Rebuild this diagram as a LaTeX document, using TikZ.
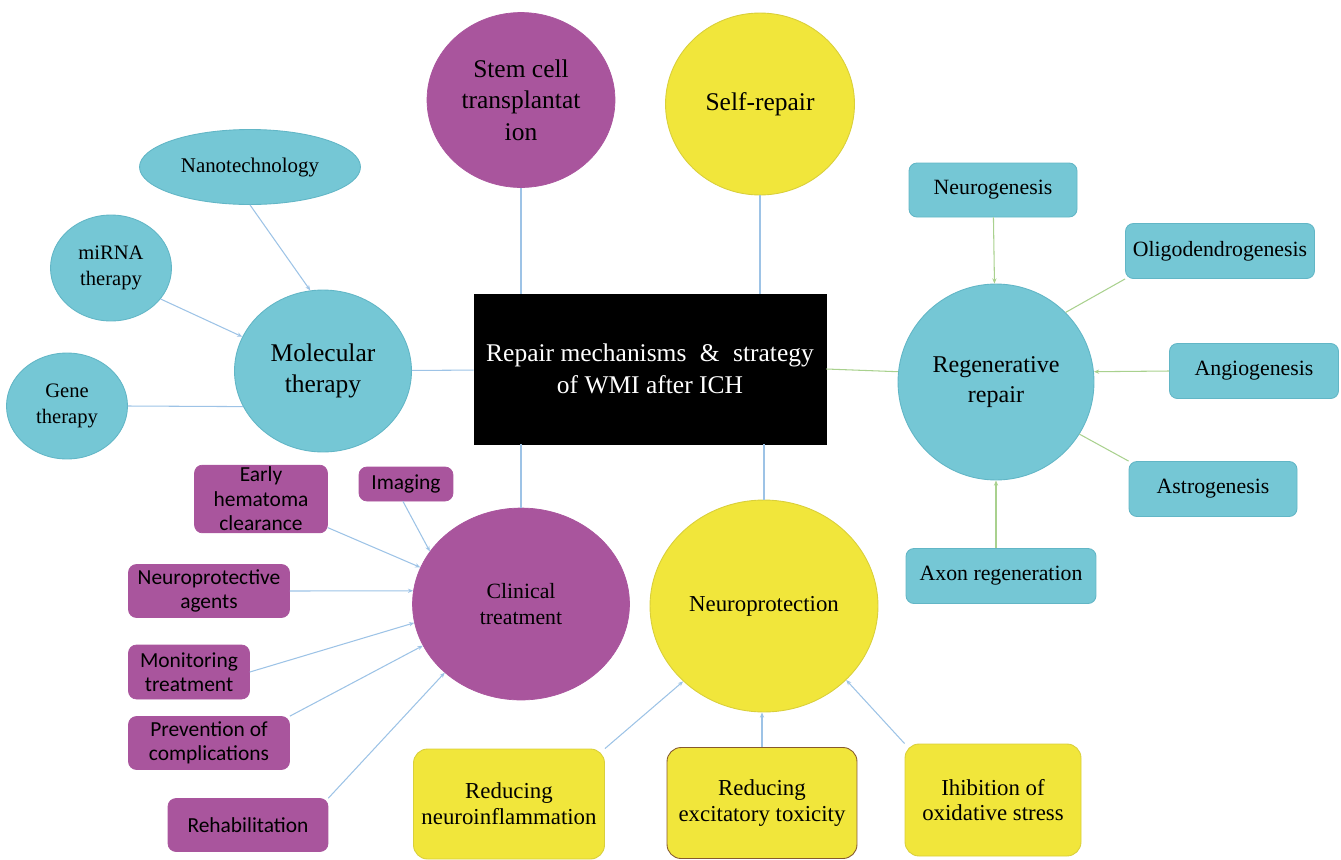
\documentclass[tikz,border=0pt]{standalone}
\usepackage{fontspec}
\setmainfont{Liberation Serif}
\newfontfamily\calibrifont{Carlito}
\usetikzlibrary{arrows.meta,shapes.geometric}

\definecolor{tealfill}{HTML}{75C7D5}
\definecolor{tealline}{HTML}{62B6C6}
\definecolor{purpfill}{HTML}{A9559D}
\definecolor{yellfill}{HTML}{F1E63B}
\definecolor{yellline}{HTML}{D9CF3A}
\definecolor{linkblue}{HTML}{9DC3E6}
\definecolor{linkgreen}{HTML}{A9D18E}

\begin{document}
\begin{tikzpicture}[
  x=0.02cm, y=-0.02cm,
  every node/.style={align=center, inner sep=1pt},
  bigtxt/.style={font=\fontsize{14.5}{18}\selectfont},
  boxtxt/.style={font=\fontsize{12.4}{14.7}\selectfont},
  sanstxt/.style={font=\calibrifont\fontsize{12.2}{14}\selectfont},
  tcirc/.style={ellipse, fill=tealfill, draw=tealline, line width=0.5pt},
  pcirc/.style={ellipse, fill=purpfill, draw=purpfill},
  ycirc/.style={ellipse, fill=yellfill, draw=yellline, line width=0.5pt},
  tbox/.style={rectangle, rounded corners=4.5pt, fill=tealfill, draw=tealline,
               line width=0.5pt, boxtxt},
  pbox/.style={rectangle, rounded corners=4.5pt, fill=purpfill, draw=purpfill, sanstxt},
  ybox/.style={rectangle, rounded corners=8pt, fill=yellfill, draw=yellline,
               line width=0.5pt, font=\fontsize{13}{14.7}\selectfont},
  link/.style={linkblue, line width=0.6pt},
  arr/.style={link, -{Stealth[length=3pt,width=2.4pt]}},
  glink/.style={linkgreen, line width=0.6pt},
  garr/.style={glink, -{Stealth[length=3pt,width=2.4pt]}}
]
\useasboundingbox (0,0) rectangle (1341,859);

%% Centre
\node[rectangle, fill=black, draw=black, minimum width=7.04cm, minimum height=3cm,
      text=white, bigtxt] (ctr) at (650,369)
      {Repair mechanisms \;\&\; strategy\\of WMI after ICH};

%% Top circles
\node[pcirc, minimum width=3.76cm, minimum height=3.5cm, bigtxt] (stem) at (521,100)
      {Stem cell\\transplantat\\ion};
\node[ycirc, minimum width=3.78cm, minimum height=3.64cm, bigtxt] (self) at (760,104)
      {Self-repair};

%% Molecular therapy (left)
\node[tcirc, minimum width=3.54cm, minimum height=3.24cm, bigtxt] (mol) at (323,371)
      {Molecular\\therapy};
\node[tcirc, minimum width=4.42cm, minimum height=1.5cm,
      font=\fontsize{11.9}{14.7}\selectfont] (nano) at (250,167) {Nanotechnology};
\node[tcirc, minimum width=2.42cm, minimum height=2.12cm,
      font=\fontsize{11.7}{14.7}\selectfont] (mirna) at (111,268) {miRNA\\therapy};
\node[tcirc, minimum width=2.42cm, minimum height=2.12cm,
      font=\fontsize{11.7}{14.7}\selectfont] (gene) at (67,406) {Gene\\therapy};

%% Regenerative repair (right)
\node[tcirc, minimum width=3.92cm, minimum height=3.92cm,
      font=\fontsize{13.7}{17}\selectfont] (regen) at (996,382) {Regenerative\\repair};
\node[tbox, minimum width=3.36cm, minimum height=1.08cm] (neuro) at (993,190) {Neurogenesis};
\node[tbox, minimum width=3.78cm, minimum height=1.1cm]  (oligo) at (1220,251) {Oligodendrogenesis};
\node[tbox, minimum width=3.38cm, minimum height=1.1cm]  (angio) at (1254,371) {Angiogenesis};
\node[tbox, minimum width=3.36cm, minimum height=1.1cm]  (astro) at (1213,489) {Astrogenesis};
\node[tbox, minimum width=3.8cm, minimum height=1.1cm]   (axon)  at (1001,576) {Axon regeneration};

%% Clinical treatment (bottom left)
\node[pcirc, minimum width=4.34cm, minimum height=3.84cm, boxtxt] (clin) at (521,604)
      {Clinical\\treatment};
\node[pbox, minimum width=2.66cm, minimum height=1.3cm] (early) at (261,499)
      {Early\\hematoma\\clearance};
\node[pbox, minimum width=1.88cm, minimum height=0.68cm] (imag) at (406,484) {Imaging};
\node[pbox, minimum width=3.22cm, minimum height=1.06cm] (agent) at (209,591)
      {Neuroprotective\\agents};
\node[pbox, minimum width=2.42cm, minimum height=1.08cm] (monit) at (189,672)
      {Monitoring\\treatment};
\node[pbox, minimum width=3.22cm, minimum height=1.06cm] (prev) at (209,743)
      {Prevention of\\complications};
\node[pbox, minimum width=3.2cm, minimum height=1.06cm] (rehab) at (248,825)
      {Rehabilitation};

%% Neuroprotection (bottom right)
\node[ycirc, minimum width=4.56cm, minimum height=4.24cm,
      font=\fontsize{13}{16}\selectfont] (nprot) at (764,606) {Neuroprotection};
\node[ybox, minimum width=3.82cm, minimum height=2.2cm] (inflam) at (509,804)
      {Reducing\\neuroinflammation};
\node[ybox, draw=brown!70!black, minimum width=3.8cm, minimum height=2.22cm] (excit) at (762,803)
      {Reducing\\excitatory toxicity};
\node[ybox, minimum width=3.52cm, minimum height=2.24cm] (oxid) at (993,800)
      {Ihibition of\\oxidative stress};

%% Links to the centre
\draw[link] (stem) -- (stem |- ctr.north);
\draw[link] (self.south) -- (self.south |- ctr.north);
\draw[link] (clin) -- (clin |- ctr.south);
\draw[link] (nprot.north) -- (nprot.north |- ctr.south);
\draw[link] (mol) -- (ctr);
\draw[glink] (ctr.east) -- (regen.174);

%% Molecular therapy links
\draw[arr]  (nano.south) -- (mol.99);
\draw[arr]  (mirna.-32) -- (mol.157);
\draw[link] (gene.east) -- (mol.204);

%% Regenerative repair links
\draw[garr]  (neuro) -- (regen);
\draw[glink] (oligo.south west) -- (regen.45);
\draw[garr]  (angio.west) -- (regen.6);
\draw[glink] (astro.north west) -- (regen.-32);
\draw[garr]  (axon.north -| regen) -- (regen.south);

%% Clinical treatment links
\draw[arr] (early) -- (clin.160);
\draw[arr] (imag.-100) -- (clin.150);
\draw[arr] (agent.east) -- (clin.173);
\draw[arr] (monit.east) -- (clin.190);
\draw[arr] (prev.north east) -- (clin.203);
\draw[arr] (rehab.north east) -- (clin.222);

%% Neuroprotection links
\draw[arr] (inflam.north east) -- (nprot.223);
\draw[arr] (excit.north) -- (excit.north |- nprot.south);
\draw[arr] (oxid.north west) -- (nprot.-42);

\end{tikzpicture}
\end{document}
